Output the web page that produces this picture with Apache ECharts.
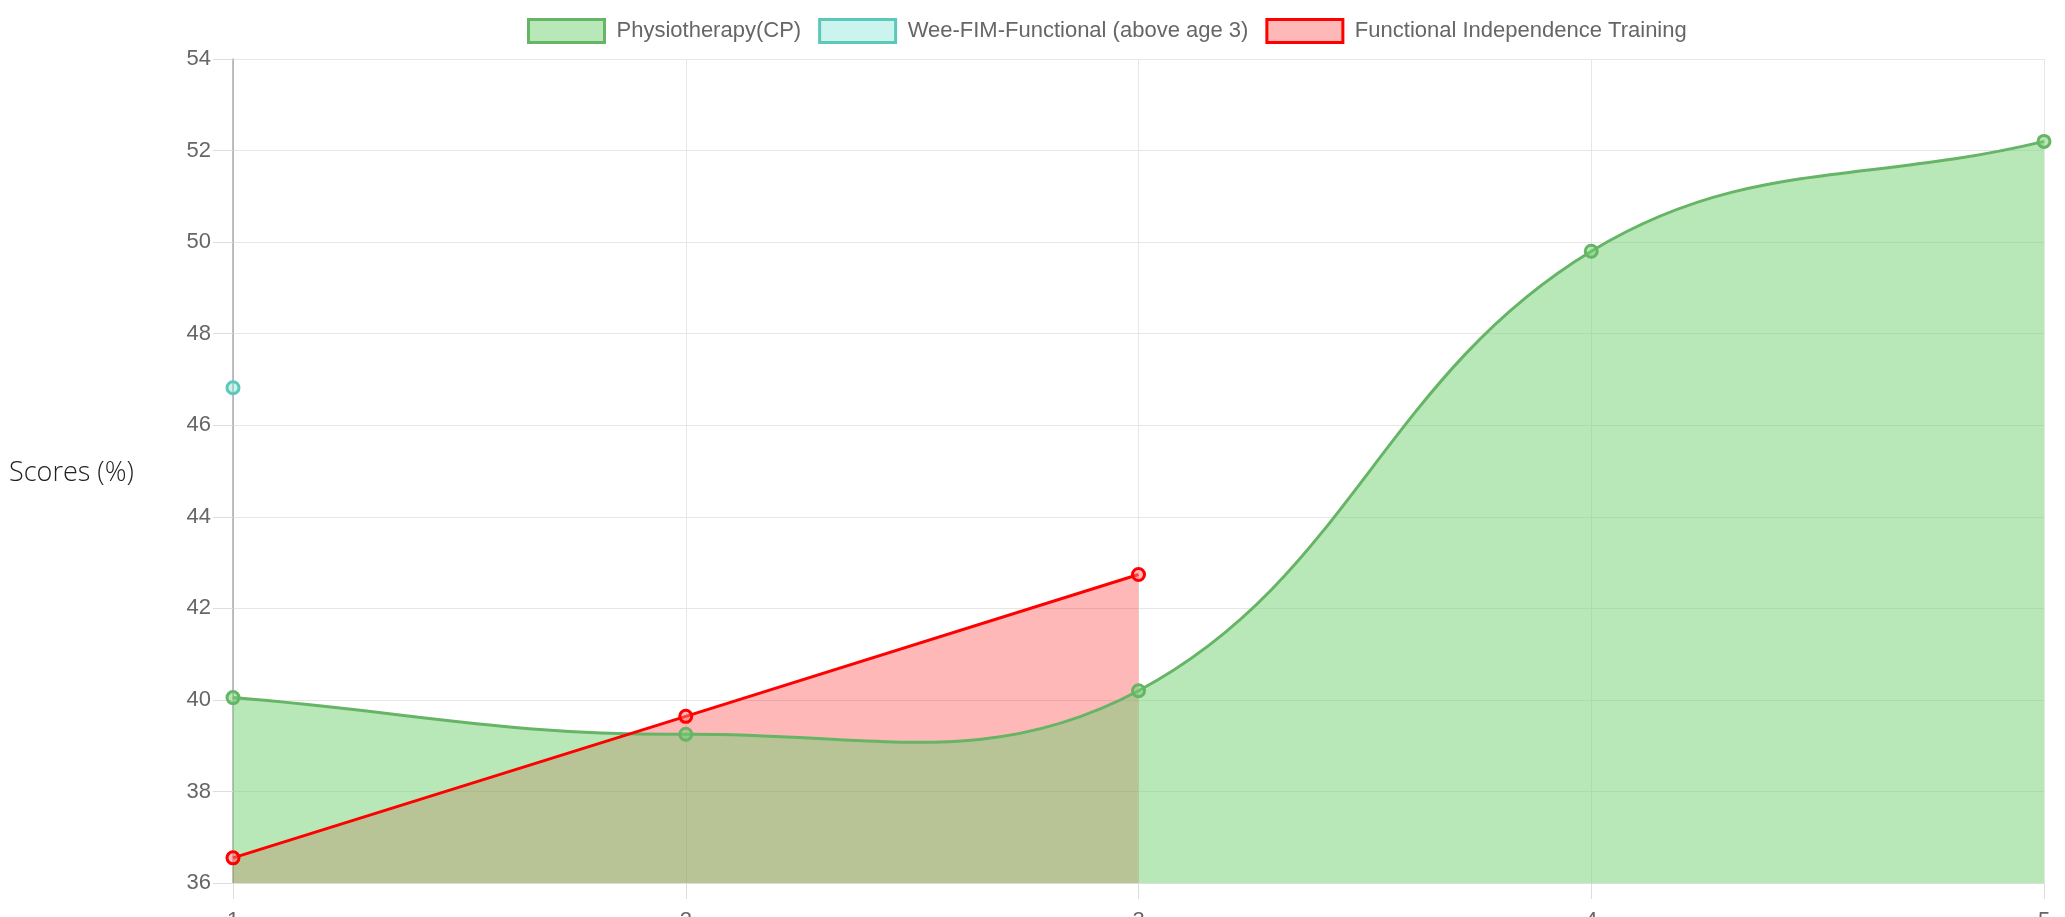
<style>
  body { margin: 0; }
</style>
<script src="https://cdn.jsdelivr.net/npm/echarts@6/dist/echarts.min.js"></script>

<div id="chart" style="width: 2065px; height: 917px;"></div>

<script>
  const categories = ['1', '2', '3', '4', '5'];
  const physio = [40.05, 39.25, 40.2, 49.8, 52.2];
  const weeFim = [46.82, null, null, null, null];
  const fit = [36.55, 39.64, 42.74, null, null];
  const yTicks = { min: 36, max: 54, step: 2 };

  const names = ['Physiotherapy(CP)', 'Wee-FIM-Functional (above age 3)', 'Functional Independence Training'];

  const green = 'rgb(102,180,102)';
  const greenFill = 'rgba(113,207,113,0.5)';
  const teal = 'rgb(92,200,186)';
  const tealFill = 'rgba(140,230,220,0.45)';
  const red = 'rgb(255,0,0)';
  const redFill = 'rgba(250,0,0,0.28)';

  const ready = (fn) => {
    if (document.readyState !== "loading") {
      fn();
    } else {
      document.addEventListener("DOMContentLoaded", fn);
    }
  };

  // same spline as chart.js (tension based), so the green curve bends the same way
  const controlPoints = (prev, cur, next, t) => {
    const d01 = Math.hypot(cur[0] - prev[0], cur[1] - prev[1]);
    const d12 = Math.hypot(next[0] - cur[0], next[1] - cur[1]);
    let s01 = d01 / (d01 + d12);
    let s12 = d12 / (d01 + d12);
    s01 = isNaN(s01) ? 0 : s01;
    s12 = isNaN(s12) ? 0 : s12;
    const fa = t * s01, fb = t * s12;
    return {
      before: [cur[0] - fa * (next[0] - prev[0]), cur[1] - fa * (next[1] - prev[1])],
      after: [cur[0] + fb * (next[0] - prev[0]), cur[1] + fb * (next[1] - prev[1])]
    };
  };

  const renderSpline = (params, api) => {
    if (params.dataIndex !== 0) return;
    const pts = physio.map((v, i) => api.coord([i, v]));
    const cps = pts.map((p, i) => controlPoints(pts[Math.max(i - 1, 0)], p, pts[Math.min(i + 1, pts.length - 1)], 0.4));
    let line = `M${pts[0][0]},${pts[0][1]}`;
    for (let i = 1; i < pts.length; i++) {
      const a = cps[i - 1].after, b = cps[i].before;
      line += ` C${a[0]},${a[1]} ${b[0]},${b[1]} ${pts[i][0]},${pts[i][1]}`;
    }
    const base = api.coord([0, yTicks.min])[1];
    const last = pts[pts.length - 1];
    const area = `${line} L${last[0]},${base} L${pts[0][0]},${base} Z`;
    const children = [
      { type: 'path', shape: { pathData: area }, style: { fill: greenFill, stroke: null } },
      { type: 'path', shape: { pathData: line }, style: { fill: null, stroke: green, lineWidth: 3 } }
    ];
    pts.forEach((p) => {
      children.push({
        type: 'circle',
        shape: { cx: p[0], cy: p[1], r: 6 },
        style: { fill: greenFill, stroke: green, lineWidth: 3 }
      });
    });
    return { type: 'group', children };
  };

  ready(() => {
    const chart = echarts.init(document.getElementById('chart'), null, { renderer: 'canvas' });
    const font = 'Liberation Sans, Arial, sans-serif';

    const option = {
      animation: false,
      title: {
        text: 'Scores (%)',
        left: 4,
        top: 448,
        textStyle: { fontFamily: 'Open Sans', fontWeight: 300, fontSize: 27, color: '#222' }
      },
      legend: {
        left: 522,
        top: 7,
        itemWidth: 76,
        itemHeight: 23,
        itemGap: 17,
        textStyle: { fontFamily: font, fontSize: 22, color: '#666', padding: [0, 0, 0, 7] },
        data: [
          { name: names[0], icon: 'rect', itemStyle: { color: greenFill, borderColor: green, borderWidth: 3 } },
          { name: names[1], icon: 'rect', itemStyle: { color: tealFill, borderColor: teal, borderWidth: 3 } },
          { name: names[2], icon: 'rect', itemStyle: { color: redFill, borderColor: red, borderWidth: 3 } }
        ]
      },
      grid: { left: 233, right: 21, top: 59, bottom: 34, containLabel: false, outerBoundsMode: 'none' },
      xAxis: {
        type: 'category',
        data: categories,
        boundaryGap: false,
        axisLine: { lineStyle: { color: '#ddd', width: 1 } },
        axisTick: { length: 16, lineStyle: { color: '#ddd' } },
        axisLabel: { margin: 19, fontFamily: font, fontSize: 22, color: '#666', hideOverlap: false },
        splitLine: { show: true, lineStyle: { color: '#e6e6e6' } }
      },
      yAxis: {
        type: 'value',
        min: yTicks.min,
        max: yTicks.max,
        interval: yTicks.step,
        axisLine: { show: true, lineStyle: { color: '#aaa', width: 1.5 } },
        axisTick: { show: true, length: 20, lineStyle: { color: '#ddd' } },
        axisLabel: { margin: 22, fontFamily: font, fontSize: 22, color: '#666' },
        splitLine: { lineStyle: { color: '#e6e6e6' } }
      },
      series: [
        {
          name: names[0],
          type: 'custom',
          data: physio.map((v, i) => [i, v]),
          encode: { x: 0, y: 1 },
          z: 3,
          renderItem: renderSpline
        },
        {
          name: names[1],
          type: 'line',
          data: weeFim,
          z: 4,
          symbol: 'circle',
          symbolSize: 12,
          lineStyle: { color: teal, width: 3 },
          itemStyle: { color: tealFill, borderColor: teal, borderWidth: 3 }
        },
        {
          // red fill sits under the green fill
          name: names[2],
          type: 'line',
          data: fit,
          z: 1,
          showSymbol: false,
          lineStyle: { opacity: 0 },
          areaStyle: { color: redFill, opacity: 1, origin: 'start' }
        },
        {
          // red line and points above everything
          name: names[2],
          type: 'line',
          data: fit,
          z: 5,
          symbol: 'circle',
          symbolSize: 12,
          lineStyle: { color: red, width: 3 },
          itemStyle: { color: 'rgba(255,120,120,0.5)', borderColor: red, borderWidth: 3 }
        }
      ]
    };
    chart.setOption(option);
  });
</script>
